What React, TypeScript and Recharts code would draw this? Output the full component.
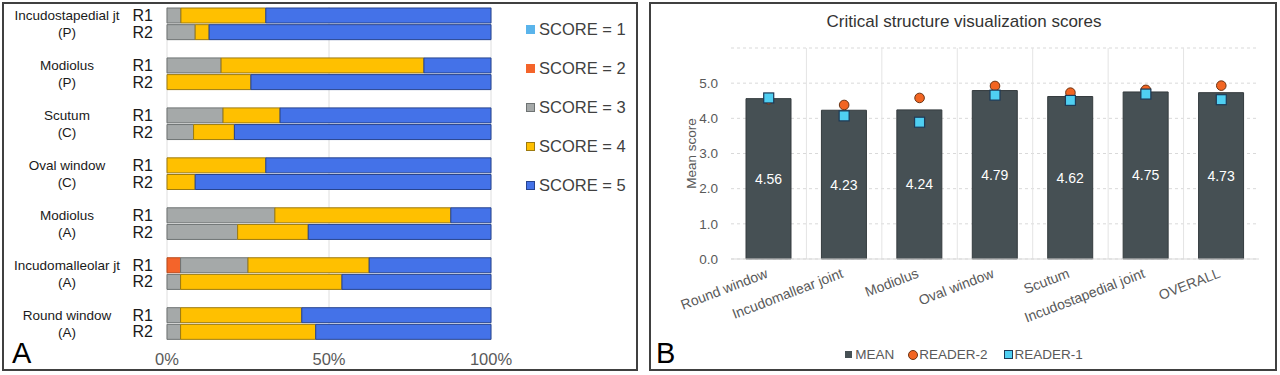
import React from 'react';
import {
  BarChart, Bar, XAxis, YAxis, CartesianGrid, Legend, ComposedChart, Line, LabelList,
} from 'recharts';

const FONT = '"Liberation Sans", Arial, sans-serif';

// ---- Panel A: score distribution per structure and reader (% of cases)
const structures = ['Incudostapedial jt', 'Modiolus', 'Scutum', 'Oval window', 'Modiolus', 'Incudomalleolar jt', 'Round window'];
const approaches = ['(P)', '(P)', '(C)', '(C)', '(A)', '(A)', '(A)'];
const readers = ['R1', 'R2'];

// one value per bar: group 1 R1, group 1 R2, group 2 R1, ...
const score1 = [0, 0, 0, 0, 0, 0, 0, 0, 0, 0, 0, 0, 0, 0];
const score2 = [0, 0, 0, 0, 0, 0, 0, 0, 0, 0, 4.2, 0, 0, 0];
const score3 = [4.3, 8.7, 16.7, 0, 17.3, 8.2, 0, 0, 33.3, 21.8, 20.8, 4.2, 4.2, 4.2];
const score4 = [26.2, 4.3, 62.6, 25.9, 17.6, 12.6, 30.5, 8.7, 54.3, 21.8, 37.4, 49.8, 37.4, 41.7];
const score5 = [69.5, 87.0, 20.7, 74.1, 65.1, 79.2, 69.5, 91.3, 12.4, 56.4, 37.6, 46.0, 58.4, 54.1];
const pctTicks = [0, 50, 100];

const scoreSeries = [
  { key: 's1', name: 'SCORE = 1', fill: '#5AB4EB', stroke: '#4a9fd6' },
  { key: 's2', name: 'SCORE = 2', fill: '#F4642A', stroke: '#b8481a' },
  { key: 's3', name: 'SCORE = 3', fill: '#A5A9A9', stroke: '#6e7373' },
  { key: 's4', name: 'SCORE = 4', fill: '#FFC000', stroke: '#9c7a10' },
  { key: 's5', name: 'SCORE = 5', fill: '#4472E8', stroke: '#27448f' },
];

// ---- Panel B: mean visualization score per structure
const structuresB = ['Round window', 'Incudomallear joint', 'Modiolus', 'Oval window', 'Scutum', 'Incudostapedial joint', 'OVERALL'];
const meanScores = [4.56, 4.23, 4.24, 4.79, 4.62, 4.75, 4.73];
const reader2Scores = [4.54, 4.38, 4.58, 4.92, 4.73, 4.81, 4.93];
const reader1Scores = [4.58, 4.07, 3.89, 4.66, 4.51, 4.69, 4.53];
const meanTicks = [0, 1, 2, 3, 4, 5];

// rows for panel A, with an empty spacer row between the structures
const rowsA: any[] = [];
structures.forEach((s, g) => {
  readers.forEach((r, k) => {
    const i = g * 2 + k;
    rowsA.push({
      key: `${g}-${r}`, reader: r, line: k === 0 ? s : approaches[g],
      s1: score1[i], s2: score2[i], s3: score3[i], s4: score4[i], s5: score5[i],
    });
  });
  if (g < structures.length - 1) rowsA.push({ key: `gap-${g}`, reader: '', line: '' });
});
const rowByKey: Record<string, any> = {};
rowsA.forEach((r) => { rowByKey[r.key] = r; });

const rowsB = structuresB.map((name, i) => ({
  name, mean: meanScores[i], reader2: reader2Scores[i], reader1: reader1Scores[i],
}));

const RowTick = (props: any) => {
  const { x, y, payload } = props;
  const row = rowByKey[payload.value];
  if (!row || !row.reader) return <g />;
  return (
    <g fontFamily={FONT}>
      <text x={x - 14} y={y} dy="0.36em" textAnchor="end" fontSize={16} fill="#1a1a1a">{row.reader}</text>
      <text x={x - 100} y={y} dy="0.36em" textAnchor="middle" fontSize={13.5} fill="#1a1a1a">{row.line}</text>
    </g>
  );
};

const ScoreLegend = () => (
  <div style={{ fontFamily: FONT }}>
    {scoreSeries.map((s) => (
      <div key={s.key} style={{ display: 'flex', alignItems: 'center', height: 22, marginBottom: 17 }}>
        <span style={{ width: 7, height: 7, background: s.fill, border: `1px solid ${s.key === 's1' || s.key === 's2' ? s.fill : s.stroke}`, marginRight: 4 }} />
        <span style={{ fontSize: 16.5, color: '#404040', lineHeight: '22px' }}>{s.name}</span>
      </div>
    ))}
  </div>
);

const ScoreDistributionChart = () => (
  <BarChart
    width={640}
    height={375}
    data={rowsA}
    layout="vertical"
    margin={{ top: 7, right: 149, bottom: 0, left: 7 }}
  >
    <CartesianGrid horizontal={false} stroke="#dedede" />
    <XAxis
      type="number"
      domain={[0, 100]}
      ticks={pctTicks}
      tickFormatter={(v) => `${v}%`}
      axisLine={false}
      tickLine={false}
      tickSize={0}
      tickMargin={13}
      height={35}
      tick={{ fill: '#595959', fontSize: 16.5, fontFamily: FONT }}
    />
    <YAxis
      type="category"
      dataKey="key"
      width={160}
      interval={0}
      axisLine={false}
      tickLine={false}
      tickSize={0}
      tickMargin={0}
      tick={RowTick}
    />
    <Legend
      layout="vertical"
      align="center"
      verticalAlign="middle"
      content={ScoreLegend}
      wrapperStyle={{ left: 526, top: 18, width: 114 }}
    />
    {scoreSeries.map((s) => (
      <Bar
        key={s.key}
        dataKey={s.key}
        name={s.name}
        stackId="a"
        fill={s.fill}
        stroke={s.stroke}
        strokeWidth={1}
        barSize={15}
        isAnimationActive={false}
      />
    ))}
  </BarChart>
);

const SlantTick = (props: any) => {
  const { x, y, payload } = props;
  return (
    <text
      x={x}
      y={y + 18}
      textAnchor="end"
      transform={`rotate(-21, ${x}, ${y + 18})`}
      fontSize={14}
      fill="#595959"
      fontFamily={FONT}
    >
      {payload.value}
    </text>
  );
};

const ReaderCircle = (props: any) => {
  const { cx, cy, index } = props;
  return <circle key={`c-${index}`} cx={cx} cy={cy} r={4.8} fill="#F26522" stroke="#6b3414" strokeWidth={1} />;
};

const ReaderSquare = (props: any) => {
  const { cx, cy, index } = props;
  return <rect key={`s-${index}`} x={cx - 5} y={cy - 5} width={10} height={10} fill="#4FCFF2" stroke="#1d3a57" strokeWidth={1.2} />;
};

const MeanLegend = () => (
  <div style={{ display: 'flex', justifyContent: 'center', alignItems: 'center', fontFamily: FONT, fontSize: 13.5, color: '#595959' }}>
    <span style={{ width: 7, height: 7, background: '#465054', marginRight: 3 }} />
    <span style={{ marginRight: 14 }}>MEAN</span>
    <span style={{ width: 8, height: 8, borderRadius: '50%', background: '#F26522', border: '1px solid #6b3414', marginRight: 1 }} />
    <span style={{ marginRight: 16 }}>READER-2</span>
    <span style={{ width: 7, height: 7, background: '#4FCFF2', border: '1px solid #1d3a57', marginRight: 2 }} />
    <span>READER-1</span>
  </div>
);

const MeanScoreChart = () => (
  <ComposedChart
    width={632}
    height={375}
    data={rowsB}
    margin={{ top: 48, right: 21, bottom: 26, left: 33 }}
  >
    <CartesianGrid vertical={false} strokeDasharray="3 3" stroke="#d9d9d9" />
    <CartesianGrid
      horizontal={false}
      stroke="#e4e4e4"
      verticalCoordinatesGenerator={({ offset }: any) =>
        structuresB.slice(1).map((_, i) => offset.left + ((i + 1) * offset.width) / structuresB.length)
      }
    />
    <XAxis
      dataKey="name"
      interval={0}
      height={90}
      tickLine={false}
      tickSize={0}
      tickMargin={0}
      axisLine={{ stroke: '#d9d9d9' }}
      tick={SlantTick}
    />
    <YAxis
      domain={[0, 6]}
      ticks={meanTicks}
      width={50}
      axisLine={false}
      tickLine={false}
      tickSize={0}
      tickMargin={13}
      tickFormatter={(v) => Number(v).toFixed(1)}
      tick={{ fill: '#595959', fontSize: 13.5, fontFamily: FONT }}
      label={{
        value: 'Mean score', angle: -90, position: 'insideLeft', offset: 10,
        style: { textAnchor: 'middle', fill: '#595959', fontSize: 13.5, fontFamily: FONT },
      }}
    />
    <Legend
      layout="vertical"
      align="center"
      verticalAlign="middle"
      content={MeanLegend}
      wrapperStyle={{ left: 0, top: 347, width: 632 }}
    />
    <Bar dataKey="mean" name="MEAN" fill="#465054" stroke="#343b3e" barSize={45} isAnimationActive={false}>
      <LabelList
        dataKey="mean"
        position="center"
        fill="#ffffff"
        fontSize={14}
        fontFamily={FONT}
        formatter={(v: any) => Number(v).toFixed(2)}
      />
    </Bar>
    <Line dataKey="reader2" name="READER-2" stroke="none" dot={ReaderCircle} activeDot={false} legendType="circle" isAnimationActive={false} />
    <Line dataKey="reader1" name="READER-1" stroke="none" dot={ReaderSquare} activeDot={false} legendType="square" isAnimationActive={false} />
  </ComposedChart>
);

export default function App() {
  return (
    <div style={{ position: 'absolute', left: 0, top: 0, width: 1280, height: 375, background: '#fff', fontFamily: FONT }}>
      <div style={{ position: 'absolute', left: 2, top: 2, width: 636, height: 369, border: '2px solid #404040', boxSizing: 'border-box' }} />
      <div style={{ position: 'absolute', left: 649, top: 2, width: 628, height: 369, border: '2px solid #404040', boxSizing: 'border-box' }} />
      <div style={{ position: 'absolute', left: 0, top: 0 }}>
        <ScoreDistributionChart />
      </div>
      <div style={{ position: 'absolute', left: 648, top: 0 }}>
        <MeanScoreChart />
      </div>
      <svg width={1280} height={375} style={{ position: 'absolute', left: 0, top: 0, pointerEvents: 'none' }}>
        <text x={12} y={362.5} fontSize={29} fontFamily={FONT} fill="#000">A</text>
        <text x={656} y={362.5} fontSize={29} fontFamily={FONT} fill="#000">B</text>
        <text x={964} y={27} textAnchor="middle" fontSize={17} fontFamily={FONT} fill="#333">
          Critical structure visualization scores
        </text>
      </svg>
    </div>
  );
}
